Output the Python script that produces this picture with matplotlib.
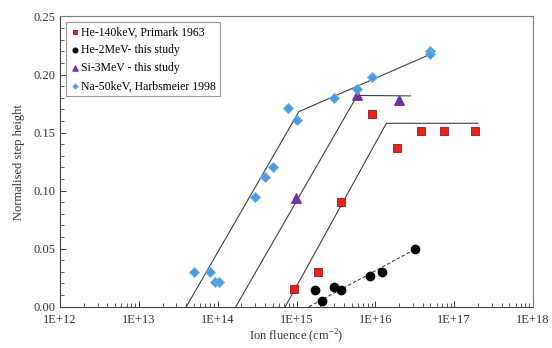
import numpy as np
import matplotlib.pyplot as plt
from matplotlib.ticker import FixedLocator, LogLocator, MultipleLocator, NullFormatter

plt.rcParams['font.family'] = ['Liberation Serif', 'DejaVu Serif']
plt.rcParams['mathtext.fontset'] = 'custom'
plt.rcParams['mathtext.rm'] = 'Liberation Serif'

# He-140keV, Primark 1963
he140_x = [9.3e14, 1.87e15, 3.7e15, 9.1e15, 1.86e16, 3.8e16, 7.5e16, 1.85e17]
he140_y = [0.015, 0.030, 0.0905, 0.166, 0.137, 0.1515, 0.1515, 0.1515]
he140_fit_x = [7.2e14, 1.38e16, 2.0e17]
he140_fit_y = [0.0, 0.158, 0.158]

# He-2MeV - this study
he2_x = [1.7e15, 2.1e15, 2.96e15, 3.7e15, 8.5e15, 1.2e16, 3.2e16]
he2_y = [0.0144, 0.005, 0.0167, 0.0144, 0.0265, 0.0297, 0.0495]
he2_fit_x = [1.44e15, 3.2e16]
he2_fit_y = [0.0, 0.0495]

# Si-3MeV - this study
si_x = [9.8e14, 5.9e15, 2.0e16]
si_y = [0.0935, 0.182, 0.178]
si_fit_x = [1.7e14, 5.9e15, 2.8e16]
si_fit_y = [0.0, 0.182, 0.1816]

# Na-50keV, Harbsmeier 1998
na_x = [5.0e13, 8.0e13, 9.3e13, 1.03e14, 2.95e14, 4.0e14, 5.1e14, 7.7e14,
        1.02e15, 2.96e15, 5.9e15, 9.1e15, 5.0e16, 5.0e16]
na_y = [0.030, 0.030, 0.0216, 0.0216, 0.0943, 0.112, 0.1207, 0.1716,
        0.161, 0.180, 0.1877, 0.198, 0.2207, 0.2175]
na_fit_x = [4.0e13, 1.07e15, 5.0e16]
na_fit_y = [0.0, 0.168, 0.2175]

xticks = [1e12, 1e13, 1e14, 1e15, 1e16, 1e17, 1e18]
xticklabels = ['1E+12', '1E+13', '1E+14', '1E+15', '1E+16', '1E+17', '1E+18']

fig = plt.figure(figsize=(5.52, 3.48), dpi=100)
ax = fig.add_axes([0.1087, 0.1187, 0.8569, 0.8339])

line_kw = dict(color='#404040', linewidth=0.8, zorder=1)
ax.plot(na_fit_x, na_fit_y, **line_kw)
ax.plot(si_fit_x, si_fit_y, **line_kw)
ax.plot(he140_fit_x, he140_fit_y, **line_kw)
ax.plot(he2_fit_x, he2_fit_y, color='#404040', linewidth=0.8, linestyle=(0, (3, 2)), zorder=1)

ax.scatter(he140_x, he140_y, marker='s', s=38, color='#E3261B', edgecolors='#A01010',
           linewidths=0.6, label='He-140keV, Primark 1963', zorder=3)
ax.scatter(he2_x, he2_y, marker='o', s=36, color='black',
           label='He-2MeV- this study', zorder=3)
ax.scatter(si_x, si_y, marker='^', s=46, color='#7030A0',
           label='Si-3MeV - this study', zorder=3)
ax.scatter(na_x, na_y, marker='D', s=28, color='#4A9BE0', edgecolors='#7DB8EC',
           linewidths=0.5, label='Na-50keV, Harbsmeier 1998', zorder=3)

ax.set_xscale('log')
ax.set_xlim(1e12, 1e18)
ax.set_ylim(0, 0.25)
ax.xaxis.set_major_locator(FixedLocator(xticks))
ax.set_xticklabels(xticklabels)
ax.xaxis.set_minor_locator(LogLocator(base=10, subs=np.arange(2, 10)))
ax.xaxis.set_minor_formatter(NullFormatter())
ax.yaxis.set_major_locator(MultipleLocator(0.05))
ax.yaxis.set_minor_locator(MultipleLocator(0.01))
ax.yaxis.set_major_formatter(plt.FuncFormatter(lambda v, p: f'{v:.2f}'))

ax.tick_params(which='both', direction='in', labelsize=9, colors='#404040', labelcolor='#333333')
ax.tick_params(which='major', length=4, width=0.7)
ax.tick_params(which='minor', length=3, width=0.6)
ax.tick_params(axis='x', pad=5)
for s in ax.spines.values():
    s.set_color('#7f7f7f')
    s.set_linewidth(0.8)
ax.spines['left'].set_color('#404040')
ax.spines['bottom'].set_color('#404040')

ax.set_xlabel('Ion fluence (cm$^{-2}$)', fontsize=9, color='#333333', labelpad=1)
ax.set_ylabel('Normalised step height', fontsize=9, color='#333333', labelpad=6)

leg = ax.legend(loc='upper left', fontsize=8.5, frameon=True, fancybox=False,
                edgecolor='#7f7f7f', handletextpad=0.1, handlelength=0.8,
                borderpad=0.35, labelspacing=0.5, borderaxespad=0.5,
                markerscale=0.55)
leg.get_frame().set_linewidth(0.8)

fig.savefig('out.png', dpi=100)
